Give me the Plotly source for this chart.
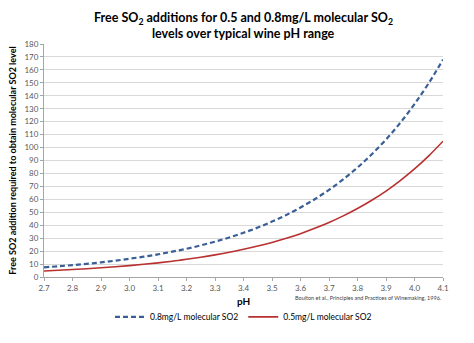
import plotly.graph_objects as go

# pH values and free SO2 required (mg/L) for each molecular SO2 target
ph = [2.70, 2.75, 2.80, 2.85, 2.90, 2.95, 3.00, 3.05, 3.10, 3.15, 3.20, 3.25, 3.30, 3.35, 3.40,
      3.45, 3.50, 3.55, 3.60, 3.65, 3.70, 3.75, 3.80, 3.85, 3.90, 3.95, 4.00, 4.05, 4.10]
free_08 = [7.45, 8.27, 9.18, 10.2, 11.3, 12.6, 14.1, 15.7, 17.5, 19.6, 21.8, 24.4, 27.3, 30.5, 34.2,
           38.2, 42.8, 47.9, 53.7, 60.1, 67.3, 75.5, 84.6, 94.8, 106.2, 119.1, 133.6, 149.8, 167.9]
free_05 = [4.66, 5.17, 5.74, 6.38, 7.09, 7.90, 8.80, 9.81, 10.9, 12.2, 13.7, 15.3, 17.1, 19.1, 21.4,
           23.9, 26.7, 29.9, 33.5, 37.6, 42.1, 47.2, 52.9, 59.3, 66.4, 74.5, 83.5, 93.6, 104.9]
x_ticks = [2.7, 2.8, 2.9, 3.0, 3.1, 3.2, 3.3, 3.4, 3.5, 3.6, 3.7, 3.8, 3.9, 4.0, 4.1]
y_ticks = list(range(0, 181, 10))

FONT = "Lato, 'Open Sans', sans-serif"
PLOT_TOP, PLOT_BOTTOM = 44, 295          # pixel rows of the plotting area
PLOT_H = PLOT_BOTTOM - PLOT_TOP


def paper_y(px):
    """Convert a pixel row in the page to paper coordinates."""
    return (PLOT_BOTTOM - px) / PLOT_H


fig = go.Figure()
fig.add_trace(go.Scatter(
    x=ph, y=free_08, mode="lines", name="0.8mg/L molecular SO2",
    line=dict(color="#3A5F96", width=2.2, dash="5px,3px", shape="spline"),
))
fig.add_trace(go.Scatter(
    x=ph, y=free_05, mode="lines", name="0.5mg/L molecular SO2",
    line=dict(color="#B8302F", width=1.6, shape="spline"),
))

title_font = dict(family=FONT, size=12.5, color="#000000", weight="bold")

fig.update_layout(
    width=474, height=343,
    margin=dict(l=35, r=31, t=PLOT_TOP, b=343 - PLOT_BOTTOM),
    paper_bgcolor="white", plot_bgcolor="white",
    font=dict(family=FONT, color="#404040"),
    xaxis=dict(
        range=[2.7, 4.1], tickvals=x_ticks, ticktext=[f"{v:.1f}" for v in x_ticks],
        tickfont=dict(size=8, color="#595959"),
        showgrid=False, zeroline=False,
        showline=True, linecolor="#A6A6A6", linewidth=1,
        ticks="outside", ticklen=3, tickcolor="#A6A6A6",
        title=dict(text="<b>pH</b>", font=dict(size=10, color="#000000"), standoff=6),
    ),
    yaxis=dict(
        range=[0, 180], tickvals=y_ticks,
        tickfont=dict(size=8, color="#595959"),
        showgrid=True, gridcolor="#D9D9D9", gridwidth=1, zeroline=False,
        showline=True, linecolor="#A6A6A6", linewidth=1,
        ticks="outside", ticklen=3, tickcolor="#A6A6A6",
        title=dict(text="<b>Free SO2 addition required to obtain molecular SO2 level</b>",
                   font=dict(size=9, color="#000000"), standoff=6),
    ),
    legend=dict(
        orientation="h", x=0.5, xanchor="center", y=paper_y(338), yanchor="middle",
        font=dict(size=8.5, color="#000000"),
        bgcolor="rgba(0,0,0,0)",
    ),
    annotations=[
        dict(text="Free SO<sub>2</sub> additions for 0.5 and 0.8mg/L molecular SO<sub>2</sub>",
             x=0.5, xref="paper", xanchor="center", y=paper_y(16), yref="paper",
             yanchor="middle", showarrow=False, font=title_font),
        dict(text="levels over typical wine pH range",
             x=0.5, xref="paper", xanchor="center", y=paper_y(33), yref="paper",
             yanchor="middle", showarrow=False, font=title_font),
        dict(text="Boulton et al., Principles and Practices of Winemaking, 1996.",
             x=1.0, xref="paper", xanchor="right", y=paper_y(318), yref="paper",
             yanchor="middle", showarrow=False, font=dict(size=5.5, color="#404040")),
    ],
)

fig.write_html("out.html")
